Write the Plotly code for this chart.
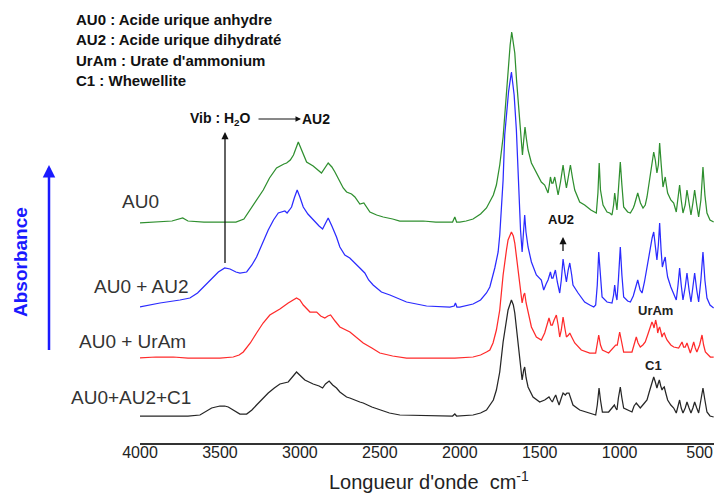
import plotly.graph_objects as go

# ---------------- data (wavenumber cm-1, absorbance a.u. above own baseline) ----------------
wn_au0 = [4000,3900,3800,3733,3700,3600,3500,3400,3350,3312,3270,3229,3190,3146,3100,3083,3060,3040,3010,2985,
          2958,2917,2865,2823,2800,2781,2750,2729,2708,2677,2656,2625,2600,2562,2520,2479,2420,2375,2300,2229,
          2150,2083,2045,2031,2020,2000,1960,1917,1870,1833,1812,1790,1771,1750,1729,1710,1698,1685,1675,1665,
          1656,1645,1635,1620,1608,1600,1592,1584,1573,1552,1521,1490,1469,1448,1440,1433,1425,1417,1406,1395,
          1385,1370,1354,1343,1333,1320,1308,1295,1281,1250,1219,1180,1146,1136,1128,1120,1104,1079,1062,1048,
          1038,1031,1024,1017,1008,996,986,975,950,933,915,908,887,870,854,840,829,818,808,797,
          787,777,767,758,750,740,729,722,715,707,700,680,662,646,635,625,615,604,590,579,
          566,554,542,531,518,506,492,479,467,454,435,412]
a_au0 = [0,1,2,5,2,1,1,1,4,13,23,33,45,55,59,60,63,68,81,71,
         61,57,50,60,56,51,41,35,31,29,26,19,20,11,8,6,4,2,2,2,
         1,1,1,6,1,1,2,4,9,15,21,28,38,58,86,128,153,178,191,181,
         170,143,120,88,68,83,96,85,73,60,50,41,38,30,38,46,40,40,46,35,
         28,41,58,45,35,47,58,45,33,21,18,13,10,30,60,33,18,11,10,8,
         18,30,18,13,33,61,38,16,11,10,15,18,30,20,15,18,26,38,53,63,
         71,63,50,58,80,58,36,41,46,37,30,23,20,11,23,38,23,10,18,33,
         20,8,20,33,18,6,23,56,28,10,3,1]

wn_au0_au2 = [4000,3875,3750,3688,3640,3604,3560,3510,3470,3437,3400,3375,3333,3300,3271,3235,3198,3165,3135,3094,
              3080,3065,3052,3035,3017,3000,2979,2950,2917,2880,2858,2840,2823,2800,2771,2750,2719,2688,2667,2625,
              2594,2570,2542,2490,2437,2333,2208,2100,2062,2035,2027,2018,2000,1917,1870,1833,1812,1781,1760,1750,
              1740,1729,1719,1708,1695,1677,1660,1646,1630,1620,1610,1600,1594,1586,1573,1552,1521,1490,1475,1460,
              1448,1433,1425,1417,1402,1390,1375,1365,1354,1343,1333,1322,1312,1300,1292,1260,1219,1187,1162,1150,
              1140,1131,1122,1110,1079,1048,1038,1031,1024,1017,1008,996,986,975,950,933,915,908,887,872,
              860,845,829,818,808,797,787,777,767,758,750,741,733,725,715,708,700,680,662,646,
              635,625,615,604,590,579,566,554,542,531,518,506,492,479,467,454,435,412]
a_au0_au2 = [0,4,7,9,14,20,27,35,39,38,35,34,35,42,50,63,77,87,94,96,
             94,97,100,109,117,110,100,93,87,81,78,83,89,81,70,60,52,49,46,39,
             34,27,22,15,12,5,1,0,0,1,4,0,0,3,7,14,20,39,55,72,
             97,127,172,192,215,235,212,177,112,77,55,82,92,75,60,45,32,27,17,23,
             27,35,29,29,37,25,14,27,48,35,25,37,44,32,22,14,5,2,0,2,
             22,55,32,10,5,4,12,22,12,7,27,60,32,10,6,5,11,15,27,17,
             14,25,40,52,60,69,75,62,47,62,84,57,40,45,50,39,30,20,14,7,
             22,39,22,7,20,34,17,5,20,34,17,5,27,55,27,9,2,-1]

wn_au0_uram = [4000,3900,3792,3700,3583,3500,3417,3380,3354,3310,3271,3230,3188,3125,3073,3040,3021,3000,2979,2937,
               2895,2870,2844,2825,2808,2780,2750,2687,2650,2604,2550,2500,2420,2333,2125,2031,1917,1870,1833,1812,
               1792,1771,1750,1729,1708,1698,1677,1665,1656,1640,1625,1610,1600,1594,1585,1573,1552,1521,1490,1469,
               1455,1442,1430,1421,1410,1396,1385,1375,1365,1354,1343,1333,1320,1312,1300,1281,1240,1187,1150,1140,
               1131,1120,1108,1069,1050,1037,1025,1015,1008,1000,990,975,923,910,896,885,871,855,840,825,
               812,805,798,790,785,780,775,768,762,756,750,742,735,728,721,712,704,680,662,631,
               620,610,600,590,579,568,558,548,537,527,517,500,485,475,464,433,412]
a_au0_uram = [0,1,1,0,0,0,1,3,6,15,25,35,43,49,55,58,60,58,53,46,
              46,42,40,42,43,37,31,26,21,15,10,5,2,0,0,0,1,3,6,8,
              15,28,48,83,108,118,126,122,115,93,71,55,63,65,55,45,31,21,18,25,
              33,40,33,33,38,43,33,21,28,41,30,21,23,25,21,15,8,5,5,13,
              23,13,8,5,8,11,13,13,20,26,18,6,6,13,21,15,11,13,16,23,
              30,34,36,33,30,34,38,33,25,29,31,26,21,24,25,21,18,13,11,10,
              13,16,11,11,15,9,5,10,16,10,6,13,23,13,6,1,1]

wn_mix = [4000,3792,3700,3625,3590,3552,3500,3470,3448,3410,3375,3333,3300,3271,3235,3198,3160,3125,3073,3050,
          3021,2995,2969,2917,2880,2858,2840,2817,2795,2771,2750,2708,2688,2625,2604,2550,2500,2440,2375,2125,
          2045,2031,2020,1917,1870,1833,1812,1790,1771,1750,1729,1708,1698,1677,1665,1656,1640,1625,1610,1600,
          1594,1585,1573,1542,1500,1469,1455,1442,1430,1421,1410,1400,1390,1379,1365,1354,1340,1330,1317,1305,
          1292,1250,1187,1150,1140,1129,1120,1108,1069,1045,1033,1025,1017,1008,996,986,975,923,910,896,
          884,871,850,829,815,804,795,787,777,767,760,752,743,735,728,721,710,700,680,662,
          646,635,625,615,604,590,579,566,554,542,531,518,506,492,479,467,454,435,412]
a_mix = [0,0,0,1,4,8,10,10,9,5,2,2,6,11,17,23,28,32,34,38,
         44,40,36,32,30,28,32,35,31,28,24,19,18,14,13,9,6,3,1,0,
         0,2,0,1,3,6,11,16,26,44,74,98,106,116,111,103,81,59,36,46,
         49,38,29,19,14,16,18,19,16,14,18,21,16,11,18,23,21,23,23,16,
         11,6,3,1,11,28,16,4,4,8,11,8,6,18,29,18,8,4,10,13,
         10,8,12,16,24,29,34,39,34,28,32,36,30,26,28,29,22,16,11,8,
         3,10,16,8,3,8,14,8,3,8,14,8,3,16,28,16,4,0,-1]

names = ["AU0", "AU0 + AU2", "AU0 + UrAm", "AU0+AU2+C1"]
offsets = [220, 136, 85, 27]
colors = ["#2f8f2f", "#2b2bff", "#ff2a2a", "#262626"]
series = [(wn_au0, a_au0), (wn_au0_au2, a_au0_au2), (wn_au0_uram, a_au0_uram), (wn_mix, a_mix)]

tick_vals = [4000, 3500, 3000, 2500, 2000, 1500, 1000, 500]
tick_text = [str(v) for v in tick_vals]

legend_lines = ["AU0 : Acide urique anhydre", "AU2 : Acide urique dihydraté",
                "UrAm : Urate d'ammonium", "C1 : Whewellite"]

# ---------------- figure ----------------
W, H = 714, 493
ML, MR, MT, MB = 140, 0, 0, 50
PW, PH = W - ML - MR, H - MT - MB
FONT = "'Liberation Sans', Arial, Helvetica, sans-serif"

def px(x):
    return (x - ML) / PW

def py(y):
    return (H - MB - y) / PH

fig = go.Figure()
for (wn, a), off, col, nm in zip(series, offsets, colors, names):
    fig.add_trace(go.Scatter(x=wn, y=[v + off for v in a], mode="lines",
                             line=dict(color=col, width=1.25), name=nm,
                             hoverinfo="skip", showlegend=False))

ann = []
# left spectrum labels
for nm, (cx, cy) in zip(names, [(140, 201), (141, 286), (132, 341), (131, 397)]):
    ann.append(dict(x=px(cx), y=py(cy), xref="paper", yref="paper", text=nm, showarrow=False,
                    xanchor="center", yanchor="middle", font=dict(family=FONT, size=19, color="#333333")))
# legend text block
for i, t in enumerate(legend_lines):
    ann.append(dict(x=px(74), y=py(19 + 20.6 * i), xref="paper", yref="paper", text="<b>%s</b>" % t,
                    showarrow=False, xanchor="left", yanchor="middle",
                    font=dict(family=FONT, size=15, color="#111111")))
# Vib : H2O --> AU2
ann.append(dict(x=px(188), y=py(119), xref="paper", yref="paper", text="<b>Vib : H<sub>2</sub>O</b>",
                showarrow=False, xanchor="left", yanchor="middle", font=dict(family=FONT, size=14, color="#111111")))
ann.append(dict(x=px(300), y=py(119), xref="paper", yref="paper", text="<b>AU2</b>",
                showarrow=False, xanchor="left", yanchor="middle", font=dict(family=FONT, size=14, color="#111111")))
ann.append(dict(x=px(301), y=py(119), xref="paper", yref="paper", text=" ", showarrow=True,
                ax=-44, ay=0, arrowhead=2, arrowsize=1.1, arrowwidth=1, arrowcolor="#111111",
                font=dict(size=1)))
# vertical water arrow
ann.append(dict(x=px(225), y=py(132), xref="paper", yref="paper", text=" ", showarrow=True,
                ax=0, ay=133, arrowhead=2, arrowsize=1.1, arrowwidth=1.3, arrowcolor="#111111",
                font=dict(size=1)))
# AU2 small arrow
ann.append(dict(x=px(561), y=py(219), xref="paper", yref="paper", text="<b>AU2</b>",
                showarrow=False, xanchor="center", yanchor="middle", font=dict(family=FONT, size=13, color="#111111")))
ann.append(dict(x=px(563), y=py(237), xref="paper", yref="paper", text=" ", showarrow=True,
                ax=0, ay=16, arrowhead=2, arrowsize=1.1, arrowwidth=1.3, arrowcolor="#111111",
                font=dict(size=1)))
# UrAm, C1
ann.append(dict(x=px(655), y=py(310), xref="paper", yref="paper", text="<b>UrAm</b>",
                showarrow=False, xanchor="center", yanchor="middle", font=dict(family=FONT, size=13, color="#222222")))
ann.append(dict(x=px(653), y=py(365), xref="paper", yref="paper", text="<b>C1</b>",
                showarrow=False, xanchor="center", yanchor="middle", font=dict(family=FONT, size=13, color="#222222")))
# Absorbance
ann.append(dict(x=px(20), y=py(262), xref="paper", yref="paper", text="<b>Absorbance</b>", textangle=-90,
                showarrow=False, xanchor="center", yanchor="middle", font=dict(family=FONT, size=19, color="#1a1aff")))
ann.append(dict(x=px(49), y=py(165), xref="paper", yref="paper", text=" ", showarrow=True,
                ax=0, ay=187, arrowhead=2, arrowsize=1.0, arrowwidth=2.5, arrowcolor="#1a1aff",
                font=dict(size=1)))
# x-axis title
ann.append(dict(x=px(429), y=py(480), xref="paper", yref="paper",
                text="Longueur d'onde\u00a0\u00a0cm<sup>-1</sup>", showarrow=False,
                xanchor="center", yanchor="middle", font=dict(family=FONT, size=20, color="#222222")))

fig.update_layout(
    width=W, height=H, margin=dict(l=ML, r=MR, t=MT, b=MB),
    paper_bgcolor="white", plot_bgcolor="white",
    font=dict(family=FONT),
    xaxis=dict(range=[4000, 410], tickvals=tick_vals, ticktext=tick_text, showgrid=False, zeroline=False,
               showline=True, linecolor="#333333", linewidth=1.5, ticks="", ticklabelstandoff=-6,
               tickfont=dict(family=FONT, size=16, color="#222222")),
    yaxis=dict(range=[0, PH], visible=False, showgrid=False, zeroline=False),
    annotations=ann, showlegend=False,
)
fig.write_html("out.html")
